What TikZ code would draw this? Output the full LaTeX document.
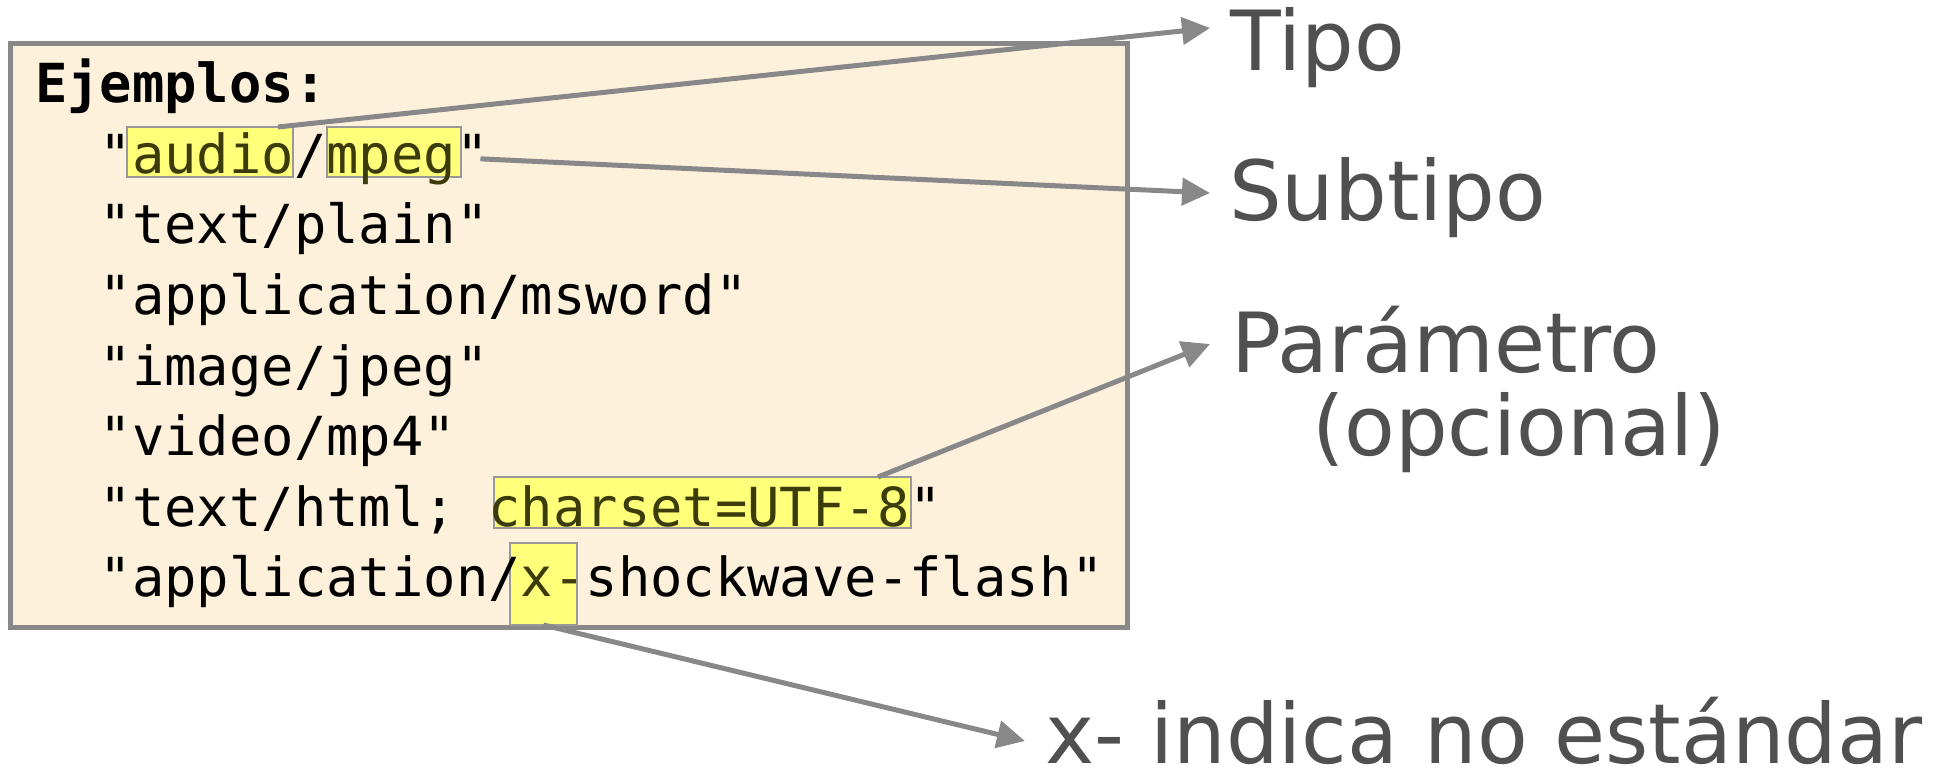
\documentclass[tikz,border=0pt]{standalone}
\usepackage{fontspec}
\setmonofont{DejaVu Sans Mono}
\newfontfamily\labelfont{DejaVu Sans}
\usetikzlibrary{arrows.meta}
\definecolor{boxfill}{HTML}{FDF1DC}
\definecolor{boxline}{HTML}{888888}
\definecolor{hlfill}{HTML}{FFFF7A}
\definecolor{hlline}{HTML}{999999}
\definecolor{hltext}{HTML}{3C3C0A}
\definecolor{labeltext}{HTML}{505050}
\definecolor{arrowc}{HTML}{888888}
\begin{document}
\begin{tikzpicture}[x=0.5pt,y=-0.5pt,
  codeline/.style={anchor=base west, inner sep=0pt, outer sep=0pt,
    font=\ttfamily\fontsize{26.9pt}{32pt}\selectfont, text=black},
  hlbox/.style={draw=hlline, line width=1pt, fill=hlfill, inner sep=0pt, outer sep=0pt},
  lbl/.style={anchor=base west, inner sep=0pt, outer sep=0pt,
    font=\labelfont\fontsize{41.5pt}{50pt}\selectfont, text=labeltext},
  pointer/.style={draw=arrowc, line width=2.5pt, -{Triangle[length=14pt,width=13.5pt]}}
]
\useasboundingbox (0,0) rectangle (1948,775);
% frame
\draw[draw=boxline, fill=boxfill, line width=2.5pt] (10.5,44) rectangle (1127,627);
% highlight boxes
\node[hlbox, minimum width=83pt, minimum height=25pt] (hAudio) at (210,152) {};
\node[hlbox, minimum width=67pt, minimum height=25pt] (hMpeg) at (394,152) {};
\node[hlbox, minimum width=208.5pt, minimum height=25.5pt] (hCharset) at (702.5,502.5) {};
\node[hlbox, minimum width=33.5pt, minimum height=41pt] (hX) at (543.5,584) {};
% code lines
\node[codeline] (l1) at (35,103) {\bfseries Ejemplos:};
\node[codeline] (l2) at (35,173.5) {\ \ "\textcolor{hltext}{audio}/\textcolor{hltext}{mpeg}"};
\node[codeline] (l3) at (35,244) {\ \ "text/plain"};
\node[codeline] (l4) at (35,314.5) {\ \ "application/msword"};
\node[codeline] (l5) at (35,385) {\ \ "image/jpeg"};
\node[codeline] (l6) at (35,455.5) {\ \ "video/mp4"};
\node[codeline] (l7) at (35,526) {\ \ "text/html; \textcolor{hltext}{charset=UTF-8}"};
\node[codeline] (l8) at (35,596.5) {\ \ "application/\textcolor{hltext}{x-}shockwave-flash"};
% labels
\node[lbl] (tipo) at (1230,71) {Tipo};
\node[lbl] (subtipo) at (1229,221) {Subtipo};
\node[lbl] (param) at (1231,372) {Parámetro};
\node[lbl] (opc) at (1312,455) {(opcional)};
\node[lbl] (xind) at (1045,763) {x- indica no estándar};
% arrow ends
\coordinate (tTipo) at (1210,28);
\coordinate (tSub) at (1210,193);
\coordinate (tParam) at (1210,344);
\coordinate (tX) at (1025,741);
% arrows
\draw[pointer] ([xshift=-7.5pt]hAudio.north east) -- (tTipo);
\draw[pointer] ([xshift=-4pt]l2.east) -- (tSub);
\draw[pointer] ([xshift=-16.5pt]hCharset.north east) -- (tParam);
\draw[pointer] (hX.south) -- (tX);
\end{tikzpicture}
\end{document}
